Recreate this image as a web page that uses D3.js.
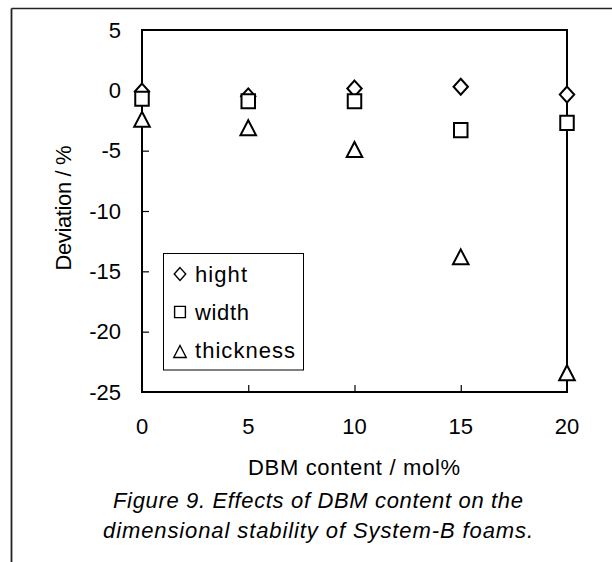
<!DOCTYPE html>
<html>
<head>
<meta charset="utf-8">
<script src="https://cdn.jsdelivr.net/npm/d3@7"></script>
<style>
  html, body { margin: 0; padding: 0; background: #fff; }
  svg { display: block; }
  text { font-family: "Liberation Sans", Arial, sans-serif; fill: #000; }
</style>
</head>
<body>
<svg id="chart" width="612" height="562"></svg>
<script>
// DBM content (mol%) on the x axis
const dbmContent = [0, 5, 10, 15, 20];
// Dimensional deviation (%) of each foam dimension
const hight     = [-0.1, -0.5, 0.15, 0.3, -0.35];
const width     = [-0.7, -0.9, -0.9, -3.3, -2.7];
const thickness = [-2.4, -3.1, -4.9, -13.8, -23.4];

const xTicks = [0, 5, 10, 15, 20];
const yTicks = [5, 0, -5, -10, -15, -20, -25];

const seriesNames = ["hight", "width", "thickness"];
const xTitle = "DBM content / mol%";
const yTitle = "Deviation / %";
const captionLines = [
  "Figure 9.  Effects of DBM content on the",
  "dimensional stability of System-B foams."
];

const svg = d3.select("#chart");
const plot = { left: 142, right: 567, top: 30, bottom: 392 };
const fs = 22;

const x = d3.scaleLinear().domain([0, 20]).range([plot.left, plot.right]);
const y = d3.scaleLinear().domain([-25, 5]).range([plot.bottom, plot.top]);

// outer page frame (top and left rules)
svg.append("line").attr("x1", 11.5).attr("x2", 612).attr("y1", 8.5).attr("y2", 8.5)
  .attr("stroke", "#222").attr("stroke-width", 1.5);
svg.append("line").attr("x1", 11.5).attr("x2", 11.5).attr("y1", 8.5).attr("y2", 562)
  .attr("stroke", "#222").attr("stroke-width", 1.8);

// plot box
svg.append("rect")
  .attr("x", plot.left).attr("y", plot.top)
  .attr("width", plot.right - plot.left).attr("height", plot.bottom - plot.top)
  .attr("fill", "none").attr("stroke", "#000").attr("stroke-width", 2);

// inward ticks via d3 axes
const xAxis = d3.axisTop(x).tickValues(xTicks.slice(1, -1)).tickSize(7).tickFormat("");
svg.append("g").attr("transform", `translate(0,${plot.bottom})`).call(xAxis)
  .call(g => g.select(".domain").remove())
  .selectAll("line").attr("stroke", "#000").attr("stroke-width", 1.2);

const yAxis = d3.axisRight(y).tickValues(yTicks.slice(1, -1)).tickSize(7).tickFormat("");
svg.append("g").attr("transform", `translate(${plot.left},0)`).call(yAxis)
  .call(g => g.select(".domain").remove())
  .selectAll("line").attr("stroke", "#000").attr("stroke-width", 1.2);

// tick labels
svg.append("g").selectAll("text").data(xTicks).join("text")
  .attr("x", d => x(d)).attr("y", 434)
  .attr("text-anchor", "middle").attr("font-size", fs)
  .text(d => d);

svg.append("g").selectAll("text").data(yTicks).join("text")
  .attr("x", 121).attr("y", d => y(d) + 7.5)
  .attr("text-anchor", "end").attr("font-size", fs)
  .text(d => d);

// axis titles
svg.append("text").attr("x", 354).attr("y", 475)
  .attr("text-anchor", "middle").attr("font-size", fs)
  .attr("textLength", 212).attr("lengthAdjust", "spacing")
  .text(xTitle);

svg.append("text")
  .attr("transform", "translate(71,208) rotate(-90)")
  .attr("text-anchor", "middle").attr("font-size", fs)
  .attr("textLength", 125).attr("lengthAdjust", "spacing")
  .text(yTitle);

// marker shapes centred on (0,0)
const shapes = {
  hight: s => `M0,${-s * 0.53}L${s * 0.48},0L0,${s * 0.53}L${-s * 0.48},0Z`,
  width: s => `M${-s * 0.45},${-s * 0.47}H${s * 0.45}V${s * 0.47}H${-s * 0.45}Z`,
  thickness: s => `M0,${-s * 0.5}L${s * 0.52},${s * 0.5}H${-s * 0.52}Z`
};

const series = [
  { name: "hight", values: hight },
  { name: "width", values: width },
  { name: "thickness", values: thickness }
];

series.forEach(sr => {
  svg.append("g").selectAll("path")
    .data(sr.values.map((v, i) => ({ xv: dbmContent[i], yv: v })))
    .join("path")
    .attr("transform", d => `translate(${x(d.xv)},${y(d.yv)})`)
    .attr("d", shapes[sr.name](15))
    .attr("fill", "#fff").attr("stroke", "#000").attr("stroke-width", 2);
});

// legend
const legend = svg.append("g");
legend.append("rect").attr("x", 163.5).attr("y", 253.5).attr("width", 140).attr("height", 116.5)
  .attr("fill", "#fff").attr("stroke", "#000").attr("stroke-width", 1);
const legendRows = [274, 312, 350];
const legendLens = [52, 54, 100];
seriesNames.forEach((name, i) => {
  legend.append("path")
    .attr("transform", `translate(180,${legendRows[i] + (i === 2 ? 1.5 : 0)})`)
    .attr("d", shapes[name](12))
    .attr("fill", "none").attr("stroke", "#000").attr("stroke-width", 1.4);
  legend.append("text").attr("x", 195).attr("y", legendRows[i] + 7.5)
    .attr("font-size", fs)
    .attr("textLength", legendLens[i]).attr("lengthAdjust", "spacing")
    .text(name);
});

// caption
const capY = [508, 538];
const capLen = [410, 430];
captionLines.forEach((line, i) => {
  svg.append("text").attr("x", 318).attr("y", capY[i])
    .attr("text-anchor", "middle").attr("font-size", fs).attr("font-style", "italic")
    .attr("textLength", capLen[i]).attr("lengthAdjust", "spacing")
    .text(line);
});
</script>
</body>
</html>
